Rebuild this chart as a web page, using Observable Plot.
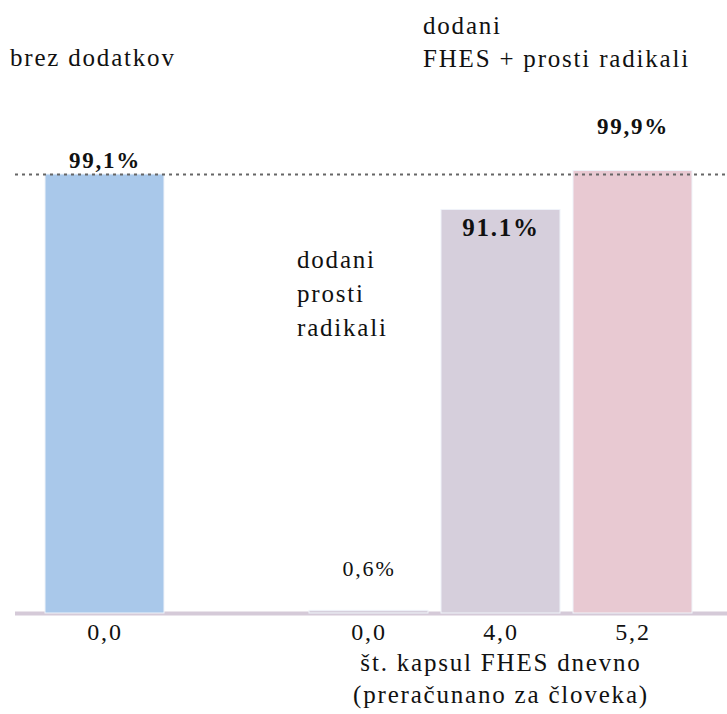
<!DOCTYPE html>
<html><head><meta charset="utf-8">
<script src="https://cdn.jsdelivr.net/npm/d3@7"></script>
<script src="https://cdn.jsdelivr.net/npm/@observablehq/plot@0.6"></script>
<style>
body{margin:0;background:#fff}
#wrap{position:relative;width:727px;height:714px;font-family:"Liberation Serif","Times New Roman",serif;color:#111}
#wrap svg{position:absolute;left:0;top:0}
.ann{position:absolute;font-size:25px;letter-spacing:1.8px;line-height:33px;white-space:pre;color:#111}
#wrap svg text{letter-spacing:1.8px}
</style></head><body>
<div id="wrap"></div>
<script>
// categories (slot "gap" is the empty space between the two groups)
const slots = ["k0", "gap", "r0", "f4", "f52"];
const tickLabels = ["0,0", "", "0,0", "4,0", "5,2"];
// bars
const barIds = ["k0", "r0", "f4", "f52"];
const values = [99.1, 0.6, 91.1, 99.9];
const valueLabels = ["99,1%", "0,6%", "91.1%", "99,9%"];
const barColors = ["#a9c8ea", "#d6cfdc", "#d6cfdc", "#e8c9d2"];
const referenceValue = 99.1;
// annotations
const groupLabels = ["brez dodatkov", "dodani\nFHES + prosti radikali", "dodani\nprosti\nradikali"];
const axisCaption = ["št. kapsul FHES dnevno\n(preračunano za človeka)"];

const bars = barIds.map((id, i) => ({id, value: values[i], label: valueLabels[i], color: barColors[i]}));
const pick = id => bars.filter(d => d.id === id);

const chart = Plot.plot({
  width: 727, height: 714,
  marginTop: 170, marginBottom: 101, marginLeft: 31, marginRight: 21,
  style: {fontFamily: "'Liberation Serif', 'Times New Roman', serif", fontSize: "24px", color: "#111", background: "transparent"},
  x: {domain: slots, padding: 0.1, tickFormat: d => tickLabels[slots.indexOf(d)], tickSize: 0, tickPadding: 9, label: null},
  y: {domain: [0, 100], axis: null},
  color: {type: "identity"},
  marks: [
    Plot.ruleY([0], {stroke: "#d5cad8", strokeWidth: 4, insetLeft: -16, insetRight: -21}),
    Plot.barY(bars, {x: "id", y: "value", fill: "color", stroke: "#f0f4fa", strokeWidth: 1}),
    Plot.ruleY([referenceValue], {stroke: "#666", strokeWidth: 1.8, strokeDasharray: "3,4", insetLeft: -16, insetRight: -21}),
    Plot.text(pick("k0"), {x: "id", y: "value", text: "label", fontWeight: "bold", dy: -14, fontSize: 23}),
    Plot.text(pick("f52"), {x: "id", y: "value", text: "label", fontWeight: "bold", dy: -44, fontSize: 23}),
    Plot.text(pick("r0"), {x: "id", y: "value", text: "label", dy: -42, fontSize: 22}),
    Plot.text(pick("f4"), {x: "id", y: "value", text: "label", fontWeight: "bold", dy: 18, fontSize: 25}),
    Plot.text(axisCaption, {x: () => "f4", frameAnchor: "bottom", lineAnchor: "middle", dy: 63, lineHeight: 1.3, fontSize: 25, text: d => d})
  ]
});

const wrap = document.getElementById("wrap");
wrap.appendChild(chart);
const annPos = [
  {left: 10, top: 41},
  {left: 423, top: 9},
  {left: 297, top: 243, lh: 34}
];
groupLabels.forEach((t, i) => {
  const div = document.createElement("div");
  div.className = "ann";
  div.textContent = t;
  div.style.left = annPos[i].left + "px";
  div.style.top = annPos[i].top + "px";
  if (annPos[i].lh) div.style.lineHeight = annPos[i].lh + "px";
  wrap.appendChild(div);
});
</script>
</body></html>
